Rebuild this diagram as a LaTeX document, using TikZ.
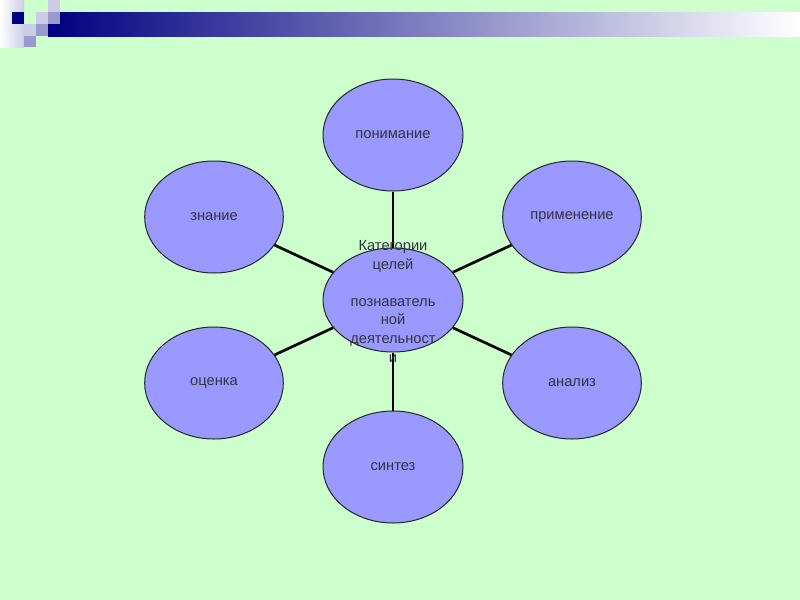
\documentclass[tikz,border=0pt]{standalone}
\usepackage{fontspec}
\setmainfont{Liberation Sans}
\usetikzlibrary{shapes.geometric}
\definecolor{bg}{HTML}{CCFFCC}
\definecolor{navyc}{HTML}{000080}
\definecolor{lav}{HTML}{CCCCE8}
\definecolor{lavm}{HTML}{9999CC}
\definecolor{bub}{HTML}{9999FF}
\definecolor{txt}{HTML}{333340}
\tikzset{
  bubble/.style={ellipse, draw=black!85, line width=0.75pt, fill=bub, inner sep=0pt,
    minimum width=104pt, minimum height=84pt, text=txt, font=\fontsize{11}{13}\selectfont},
  link/.style={line width=2pt, black}
}
\begin{document}
\begin{tikzpicture}[x=0.75pt,y=-0.75pt]
\fill[bg] (0,0) rectangle (800,600);
\useasboundingbox (0,0) rectangle (800,600);
% header decoration
\shade[left color=white, right color=lav] (0,0) rectangle (24,47);
\shade[left color=navyc, right color=white] (48,12) rectangle (800,36);
\fill[navyc] (12,12) rectangle (24,24);
\fill[lav] (36,12) rectangle (48,24);
\fill[lav] (48,0) rectangle (60,12);
\fill[lavm] (48,12) rectangle (60,24);
\fill[lav] (24,24) rectangle (36,36);
\fill[lavm] (36,24) rectangle (48,36);
\fill[lavm] (24,36) rectangle (36,47);
% center ellipse
\node[bubble, minimum width=105pt, minimum height=78pt] (c) at (393,300) {};
% outer ellipses
\node[bubble, minimum width=105pt] (p1) at (393,135) {понимание};
\node[bubble] (p2) at (214,217) {знание};
\node[bubble] (p3) at (572,217) {применение};
\node[bubble] (p4) at (214,383) {оценка};
\node[bubble] (p5) at (572,383) {анализ};
\node[bubble, minimum width=105pt] (p6) at (393,467) {синтез};
% connectors
\draw[link] (c) -- (p1);
\draw[link] (c) -- (p2);
\draw[link] (c) -- (p3);
\draw[link] (c) -- (p4);
\draw[link] (c) -- (p5);
\draw[link] (c) -- (p6);
% center text
\node[text=txt, font=\fontsize{11}{13.9}\selectfont, align=center, anchor=north] (ct) at (393,236)
  {Категории\\целей\\[13.9pt]познаватель\\ной\\деятельност\\и};
\end{tikzpicture}
\end{document}
